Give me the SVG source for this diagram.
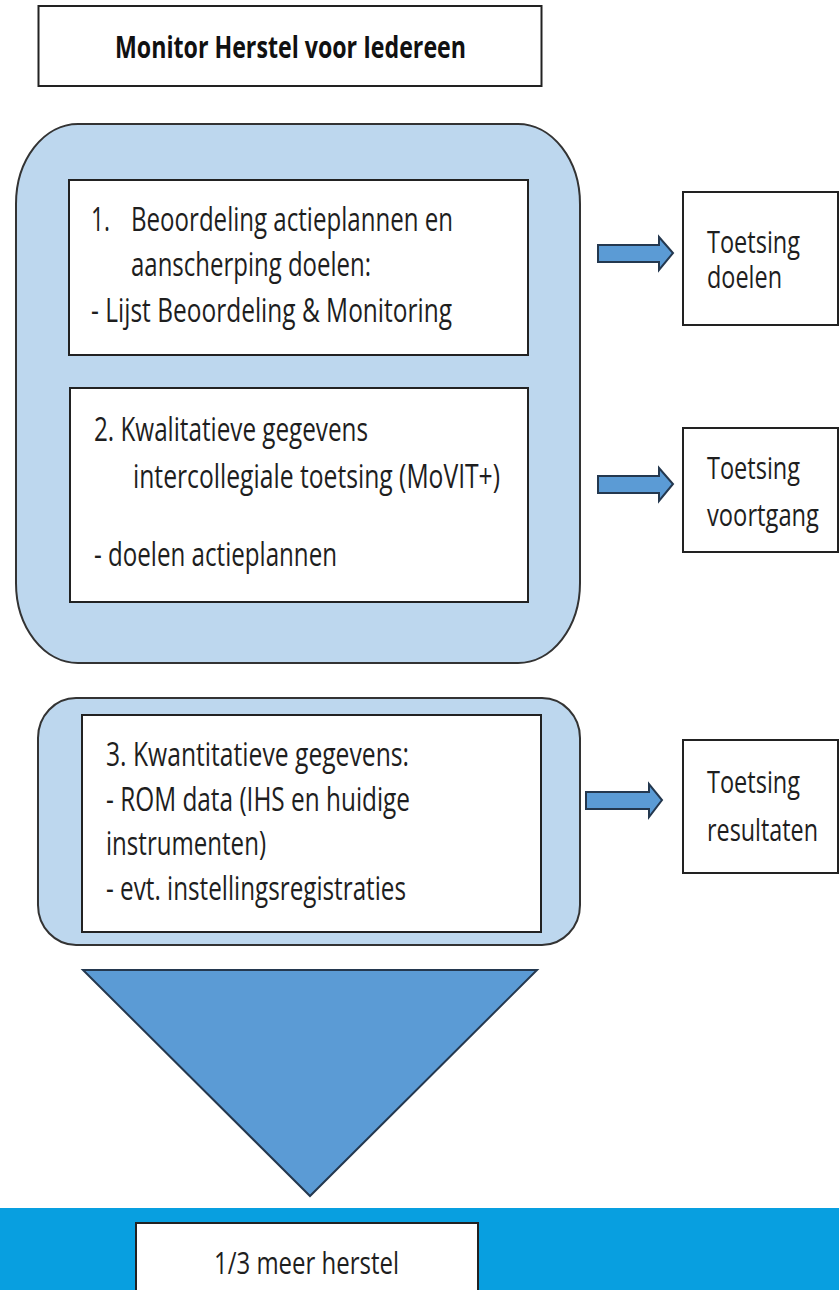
<svg xmlns="http://www.w3.org/2000/svg" width="839" height="1290" viewBox="0 0 839 1290">
<style>
.t{font-family:"Open Sans","Liberation Sans",sans-serif;font-size:32px;fill:#1e1e1e}
.ts{font-family:"Open Sans","Liberation Sans",sans-serif;font-size:31px;fill:#1e1e1e}
.tb{font-family:"Open Sans","Liberation Sans",sans-serif;font-size:30px;font-weight:bold;fill:#111}
.box{fill:#fff;stroke:#222;stroke-width:2}
.grp{fill:#bdd7ee;stroke:#333;stroke-width:2}
.arr{fill:#5b9bd5;stroke:#24384f;stroke-width:2}
</style>
<rect x="0" y="0" width="839" height="1290" fill="#fff"/>
<g id="title">
<rect class="box" x="38.5" y="6" width="503" height="80"/>
<text class="tb" x="115" y="58" textLength="351" lengthAdjust="spacingAndGlyphs">Monitor Herstel voor Iedereen</text>
</g>
<g id="group1">
<rect class="grp" x="16" y="124" width="564" height="539" rx="62" ry="80"/>
</g>
<g id="step1">
<rect class="box" x="69" y="180" width="459" height="175"/>
<text class="t" x="91" y="231" textLength="19" lengthAdjust="spacingAndGlyphs">1.</text>
<text class="t" x="131" y="231" textLength="322" lengthAdjust="spacingAndGlyphs">Beoordeling actieplannen en</text>
<text class="t" x="131" y="276" textLength="240" lengthAdjust="spacingAndGlyphs">aanscherping doelen:</text>
<text class="t" x="91" y="322" textLength="361" lengthAdjust="spacingAndGlyphs">- Lijst Beoordeling &amp; Monitoring</text>
</g>
<g id="step2">
<rect class="box" x="70" y="388" width="458" height="214"/>
<text class="t" x="94" y="441" textLength="274" lengthAdjust="spacingAndGlyphs">2. Kwalitatieve gegevens</text>
<text class="t" x="133" y="488" textLength="367" lengthAdjust="spacingAndGlyphs">intercollegiale toetsing (MoVIT+)</text>
<text class="t" x="94" y="566" textLength="243" lengthAdjust="spacingAndGlyphs">- doelen actieplannen</text>
</g>
<g id="group3">
<rect class="grp" x="38" y="698" width="542" height="247" rx="38" ry="40"/>
</g>
<g id="step3">
<rect class="box" x="82" y="715" width="459" height="217"/>
<text class="t" x="106" y="766" textLength="303" lengthAdjust="spacingAndGlyphs">3. Kwantitatieve gegevens:</text>
<text class="t" x="106" y="811" textLength="304" lengthAdjust="spacingAndGlyphs">- ROM data (IHS en huidige</text>
<text class="t" x="106" y="855" textLength="160" lengthAdjust="spacingAndGlyphs">instrumenten)</text>
<text class="t" x="106" y="900" textLength="300" lengthAdjust="spacingAndGlyphs">- evt. instellingsregistraties</text>
</g>
<g id="toetsing-doelen">
<rect class="box" x="683" y="192" width="155" height="133"/>
<text class="ts" x="707" y="253" textLength="93" lengthAdjust="spacingAndGlyphs">Toetsing</text>
<text class="ts" x="707" y="288" textLength="75" lengthAdjust="spacingAndGlyphs">doelen</text>
</g>
<g id="toetsing-voortgang">
<rect class="box" x="683" y="428" width="155" height="124"/>
<text class="ts" x="707" y="479" textLength="93" lengthAdjust="spacingAndGlyphs">Toetsing</text>
<text class="ts" x="707" y="526" textLength="112" lengthAdjust="spacingAndGlyphs">voortgang</text>
</g>
<g id="toetsing-resultaten">
<rect class="box" x="683" y="740" width="155" height="133"/>
<text class="ts" x="707" y="793" textLength="93" lengthAdjust="spacingAndGlyphs">Toetsing</text>
<text class="ts" x="707" y="841" textLength="111" lengthAdjust="spacingAndGlyphs">resultaten</text>
</g>
<g id="connectors">
<polygon class="arr" points="598,245 659,245 659,237 673,253 659,270 659,262 598,262"/>
<polygon class="arr" points="598,476 659,476 659,468 673,484 659,501 659,493 598,493"/>
<polygon class="arr" points="586,792 649,792 649,784 662,800 649,817 649,809 586,809"/>
<polygon class="arr" points="83,970 537,970 310,1196"/>
</g>
<g id="result">
<rect x="0" y="1208" width="839" height="82" fill="#089fe0"/>
<rect class="box" x="136" y="1223" width="342" height="80"/>
<text class="ts" x="214" y="1274" textLength="185" lengthAdjust="spacingAndGlyphs">1/3 meer herstel</text>
</g>
</svg>
